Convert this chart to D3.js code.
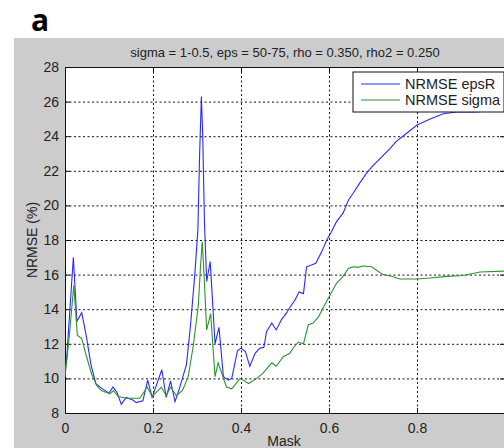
<!DOCTYPE html>
<head>
  <meta charset="utf-8">
  <script src="https://d3js.org/d3.v7.min.js"></script>
  <style>
    body { margin:0; background:#fff; }
    text { font-family: "Liberation Sans", Arial, sans-serif; }
  </style>
</head>
<body>
<svg width="504" height="448" id="vis"></svg>
<script>
// NRMSE epsR (blue)
var epsX = [0, 0.004, 0.008, 0.019, 0.027, 0.038, 0.048, 0.059, 0.07, 0.082, 0.1, 0.109, 0.118, 0.128, 0.139, 0.154, 0.162, 0.177, 0.188, 0.198,
  0.22, 0.23, 0.24, 0.25, 0.261, 0.276, 0.285, 0.295, 0.302, 0.306, 0.31, 0.313, 0.317, 0.322, 0.33, 0.341, 0.35, 0.36, 0.371, 0.379, 0.392,
  0.40, 0.41, 0.42, 0.432, 0.443, 0.452, 0.458, 0.47, 0.48, 0.492, 0.504, 0.511, 0.523, 0.532, 0.542, 0.549, 0.56, 0.57, 0.583, 0.595, 0.604,
  0.617, 0.632, 0.644, 0.655, 0.67, 0.685, 0.70, 0.72, 0.739, 0.753, 0.773, 0.80, 0.83, 0.86, 0.89, 0.93, 0.96, 1.0];
var epsY = [10.5, 11.2, 12.8, 17.0, 13.3, 13.8, 12.5, 10.8, 9.7, 9.45, 9.15, 9.5, 9.2, 8.5, 8.9, 8.75, 8.6, 8.7, 9.9, 8.9,
  10.5, 8.9, 9.85, 8.65, 9.5, 10.8, 13.0, 16.0, 18.6, 23.0, 26.3, 24.0, 19.0, 15.6, 16.75, 12.0, 12.95, 10.1, 9.9, 10.0, 11.6,
  11.75, 11.55, 10.7, 11.45, 11.75, 11.8, 12.7, 13.2, 12.8, 13.4, 13.8, 14.1, 14.55, 15.0, 14.9, 16.45, 16.55, 16.65, 17.3, 18.0, 18.4,
  19.06, 19.55, 20.3, 20.7, 21.3, 21.85, 22.3, 22.8, 23.3, 23.7, 24.1, 24.65, 25.0, 25.3, 25.4, 25.4, 25.45, 25.5];

// NRMSE sigma (green)
var sigX = [0, 0.01, 0.02, 0.028, 0.038, 0.049, 0.06, 0.072, 0.083, 0.102, 0.11, 0.121, 0.14, 0.17, 0.187, 0.198, 0.219, 0.23, 0.24, 0.253,
  0.267, 0.28, 0.291, 0.303, 0.308, 0.312, 0.316, 0.322, 0.331, 0.341, 0.348, 0.367, 0.379, 0.398, 0.417, 0.436, 0.45, 0.47, 0.48, 0.496,
  0.511, 0.52, 0.53, 0.542, 0.553, 0.564, 0.576, 0.587, 0.6, 0.617, 0.632, 0.644, 0.655, 0.666, 0.678, 0.697, 0.708, 0.723, 0.742, 0.761,
  0.80, 0.83, 0.867, 0.905, 0.943, 1.0];
var sigY = [10.1, 12.5, 15.4, 12.5, 12.3, 11.25, 10.3, 9.6, 9.3, 9.1, 9.3, 8.95, 8.85, 8.85, 9.5, 8.95, 9.5, 9.0, 9.5, 9.0,
  9.3, 10.1, 11.8, 14.2, 16.5, 17.9, 16.0, 12.8, 13.75, 10.1, 10.9, 9.5, 9.4, 10.0, 9.7, 10.0, 10.3, 10.9, 10.7, 11.25,
  11.45, 11.8, 12.1, 12.0, 13.1, 13.2, 13.55, 14.1, 14.7, 15.5, 15.9, 16.35, 16.45, 16.42, 16.5, 16.45, 16.25, 16.0, 15.9, 15.75,
  15.75, 15.8, 15.9, 15.95, 16.15, 16.2];

var xTicks = [0, 0.2, 0.4, 0.6, 0.8, 1];
var yTicks = [8, 10, 12, 14, 16, 18, 20, 22, 24, 26, 28];
var seriesNames = ["NRMSE epsR", "NRMSE sigma"];
var seriesColors = ["#2a2aff", "#2e922e"];

var svg = d3.select("#vis"),
    margin = {top: 67, left: 65},
    width = 440,
    height = 346;

svg.append("rect").attr("x", 14).attr("y", 38).attr("width", 490).attr("height", 410).attr("fill", "#cccccc");

svg.append("text").attr("x", 31).attr("y", 31)
  .style("font-family", "'Open Sans', sans-serif").style("font-weight", "bold").style("font-size", "30px")
  .text("a");

var g = svg.append("g").attr("transform", "translate(" + margin.left + "," + margin.top + ")");

var x = d3.scaleLinear().domain([0, 1]).range([0, width]),
    y = d3.scaleLinear().domain([8, 28]).range([height, 0]);

g.append("rect").attr("width", width).attr("height", height).attr("fill", "#fff");

// grid
g.append("g").attr("class", "grid")
  .call(d3.axisBottom(x).tickValues(xTicks).tickSize(height).tickFormat(""));
g.append("g").attr("class", "grid")
  .call(d3.axisRight(y).tickValues(yTicks).tickSize(width).tickFormat(""));
g.selectAll(".grid .domain").remove();
g.selectAll(".grid line").attr("stroke", "#222").attr("stroke-dasharray", "2,2.5");

// axes, ticks inward (label "1" falls past the right edge of the picture)
g.append("g").attr("transform", "translate(0," + height + ")")
  .call(d3.axisBottom(x).tickValues(xTicks).tickSizeInner(-5).tickSizeOuter(0).tickPadding(10)
    .tickFormat(function(d) { return d === 1 ? "" : d3.format("")(d); }));
g.append("g")
  .call(d3.axisLeft(y).tickValues(yTicks).tickSizeInner(-5).tickSizeOuter(0).tickPadding(6));
g.append("g").call(d3.axisTop(x).tickValues(xTicks).tickSizeInner(-5).tickSizeOuter(0).tickFormat(""));
g.append("g").attr("transform", "translate(" + width + ",0)")
  .call(d3.axisRight(y).tickValues(yTicks).tickSizeInner(-5).tickSizeOuter(0).tickFormat(""));
g.selectAll(".tick text").style("font-size", "14px").attr("fill", "#222");
g.selectAll(".domain, .tick line").attr("stroke", "#111");

// lines
g.append("clipPath").attr("id", "clip").append("rect").attr("width", width).attr("height", height);
var line = d3.line().x(function(d) { return x(d[0]); }).y(function(d) { return y(d[1]); });
var series = [d3.zip(epsX, epsY), d3.zip(sigX, sigY)];
series.forEach(function(s, i) {
  g.append("path").datum(s).attr("clip-path", "url(#clip)")
    .attr("fill", "none").attr("stroke", seriesColors[i]).attr("stroke-width", 1.1)
    .attr("d", line);
});

// title and labels
svg.append("text").attr("x", margin.left + width / 2).attr("y", 57).attr("text-anchor", "middle")
  .style("font-size", "13px").attr("fill", "#222")
  .text("sigma = 1-0.5, eps = 50-75, rho = 0.350, rho2 = 0.250");
svg.append("text").attr("x", 284).attr("y", 446).attr("text-anchor", "middle")
  .style("font-size", "14px").attr("fill", "#222").text("Mask");
svg.append("text").attr("transform", "translate(37,240) rotate(-90)").attr("text-anchor", "middle")
  .style("font-size", "14px").attr("fill", "#222").text("NRMSE (%)");

// legend
var lg = svg.append("g").attr("transform", "translate(353,72)");
lg.append("rect").attr("width", 151).attr("height", 40).attr("fill", "#fff").attr("stroke", "#111");
seriesNames.forEach(function(n, i) {
  lg.append("line").attr("x1", 8).attr("x2", 47).attr("y1", 12 + i * 16).attr("y2", 12 + i * 16)
    .attr("stroke", seriesColors[i]).attr("stroke-width", 1.1);
  lg.append("text").attr("x", 52).attr("y", 17 + i * 16).style("font-size", "14.5px").attr("fill", "#222").text(n);
});
</script>
</body>
